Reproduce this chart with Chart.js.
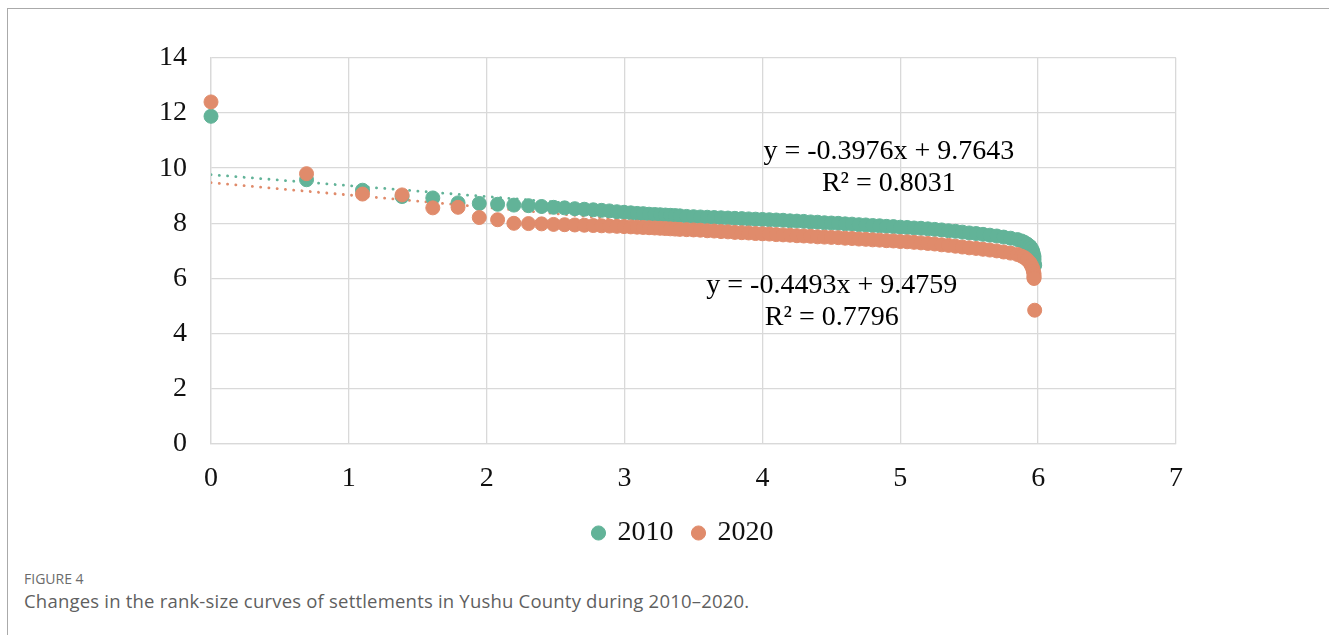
<!DOCTYPE html>
<html>
<head>
<meta charset="utf-8">
<script src="https://cdn.jsdelivr.net/npm/chart.js@4.4.1/dist/chart.umd.min.js"></script>
<style>
  html, body { margin: 0; padding: 0; background: #fff; }
  body { width: 1329px; height: 635px; position: relative; overflow: hidden; }
  .frame { position: absolute; left: 7px; top: 8px; width: 1330px; height: 640px;
           border-top: 1px solid #aaaaaa; border-left: 1px solid #aaaaaa; }
  .chart-box { position: absolute; left: 10px; top: 17px; width: 1300px; height: 550px; }
  .fig-label { position: absolute; left: 24px; top: 569px; font: 14px "Open Sans", sans-serif; color: #6b6b6b; }
  .fig-caption { position: absolute; left: 24px; top: 588px; font: 18.5px "Open Sans", sans-serif;
                 letter-spacing: 0.2px; color: #5f5f5f; }
</style>
</head>
<body>
<div class="frame"></div>
<div class="chart-box"><canvas id="rankChart"></canvas></div>
<div class="fig-label">FIGURE 4</div>
<div class="fig-caption">Changes in the rank-size curves of settlements in Yushu County during 2010–2020.</div>

<script>
// ln(rank) of settlements
const lnRank = [
    0, 0.693, 1.099, 1.386, 1.609, 1.792, 1.946, 2.079, 2.197, 2.303,
    2.398, 2.485, 2.565, 2.639, 2.708, 2.773, 2.833, 2.890, 2.944, 2.996,
    3.045, 3.091, 3.135, 3.178, 3.219, 3.258, 3.296, 3.332, 3.367, 3.401,
    3.45, 3.50, 3.55, 3.60, 3.65, 3.70, 3.75, 3.80, 3.85, 3.90,
    3.95, 4.00, 4.05, 4.10, 4.15, 4.20, 4.25, 4.30, 4.35, 4.40,
    4.45, 4.50, 4.55, 4.60, 4.65, 4.70, 4.75, 4.80, 4.85, 4.90,
    4.95, 5.00, 5.05, 5.10, 5.15, 5.20, 5.25, 5.30, 5.35, 5.40,
    5.45, 5.50, 5.55, 5.60, 5.65, 5.70, 5.75, 5.80, 5.85,
    5.88, 5.90, 5.92, 5.94, 5.95, 5.96, 5.965, 5.97, 5.97, 5.97, 5.97, 5.975
];

// ln(size) 2010
const size2010 = [
    11.88, 9.58, 9.20, 8.97, 8.92, 8.74, 8.72, 8.69, 8.66, 8.64,
    8.61, 8.58, 8.56, 8.53, 8.51, 8.49, 8.47, 8.45, 8.42, 8.40,
    8.38, 8.36, 8.35, 8.33, 8.32, 8.31, 8.30, 8.29, 8.28, 8.27,
    8.25, 8.24, 8.23, 8.22, 8.21, 8.20, 8.19, 8.18, 8.17, 8.16,
    8.15, 8.14, 8.13, 8.12, 8.11, 8.09, 8.08, 8.07, 8.05, 8.04,
    8.02, 8.01, 8.00, 7.98, 7.97, 7.95, 7.94, 7.92, 7.91, 7.89,
    7.88, 7.86, 7.85, 7.83, 7.82, 7.80, 7.78, 7.76, 7.73, 7.71,
    7.68, 7.65, 7.63, 7.60, 7.57, 7.54, 7.50, 7.46, 7.41,
    7.36, 7.31, 7.25, 7.17, 7.10, 7.00, 6.90, 6.80, 6.70, 6.60, 6.52, 6.48
];

// ln(size) 2020
const size2020 = [
    12.40, 9.80, 9.06, 9.03, 8.56, 8.58, 8.21, 8.13, 8.00, 7.99,
    7.98, 7.96, 7.95, 7.94, 7.93, 7.92, 7.91, 7.90, 7.89, 7.88,
    7.87, 7.86, 7.85, 7.84, 7.83, 7.82, 7.81, 7.80, 7.79, 7.78,
    7.77, 7.76, 7.75, 7.73, 7.72, 7.70, 7.69, 7.67, 7.66, 7.65,
    7.63, 7.62, 7.61, 7.59, 7.58, 7.57, 7.55, 7.54, 7.53, 7.51,
    7.50, 7.49, 7.48, 7.46, 7.45, 7.43, 7.42, 7.40, 7.39, 7.37,
    7.36, 7.34, 7.33, 7.31, 7.29, 7.27, 7.25, 7.22, 7.20, 7.17,
    7.14, 7.11, 7.09, 7.06, 7.03, 7.00, 6.96, 6.92, 6.87,
    6.81, 6.76, 6.68, 6.57, 6.48, 6.37, 6.27, 6.18, 6.10, 6.04, 6.00, 4.85
];

// linear trendlines (end points)
const trendX = [0, 5.975];
const trend2010 = [9.7643, 7.3886];
const trend2020 = [9.4759, 6.7914];

const eq2010 = ['y = -0.3976x + 9.7643', 'R\u00B2 = 0.8031'];
const eq2020 = ['y = -0.4493x + 9.4759', 'R\u00B2 = 0.7796'];

const GREEN = '#62b398';
const ORANGE = '#e08b6b';
const SERIF = '"Liberation Serif", "Times New Roman", serif';

function toPoints(xs, ys) {
    return xs.map((x, i) => ({ x: x, y: ys[i] }));
}

// Draw the trendline equations as text anchored in data space
const equationLabels = {
    id: 'equationLabels',
    afterDatasetsDraw(chart) {
        const { ctx, scales } = chart;
        ctx.save();
        ctx.font = '28px ' + SERIF;
        ctx.fillStyle = '#000';
        ctx.textAlign = 'center';
        ctx.textBaseline = 'alphabetic';
        const put = (lines, x, ys) => {
            lines.forEach((t, i) => {
                ctx.fillText(t, scales.x.getPixelForValue(x), scales.y.getPixelForValue(ys[i]));
            });
        };
        put(eq2010, 4.917, [10.33, 9.18]);
        put(eq2020, 4.503, [5.49, 4.33]);
        ctx.restore();
    }
};

const ctx = document.getElementById('rankChart').getContext('2d');
const rankChart = new Chart(ctx, {
    type: 'scatter',
    data: {
        datasets: [
            {
                label: '2010',
                data: toPoints(lnRank, size2010),
                backgroundColor: GREEN,
                borderColor: GREEN,
                borderWidth: 1,
                pointRadius: 7,
                clip: false,
                order: 1
            },
            {
                label: '2020',
                data: toPoints(lnRank, size2020),
                backgroundColor: ORANGE,
                borderColor: ORANGE,
                borderWidth: 1,
                pointRadius: 7,
                clip: false,
                order: 0
            },
            {
                label: 'Linear (2010)',
                data: toPoints(trendX, trend2010),
                showLine: true,
                borderColor: GREEN,
                borderWidth: 2.8,
                borderDash: [0.1, 8.2],
                borderCapStyle: 'round',
                pointRadius: 0,
                order: 2
            },
            {
                label: 'Linear (2020)',
                data: toPoints(trendX, trend2020),
                showLine: true,
                borderColor: ORANGE,
                borderWidth: 2.8,
                borderDash: [0.1, 8.2],
                borderCapStyle: 'round',
                pointRadius: 0,
                order: 2
            }
        ]
    },
    options: {
        responsive: true,
        maintainAspectRatio: false,
        animation: false,
        devicePixelRatio: 1,
        layout: {
            padding: { left: 141, right: 94, top: 31, bottom: 10 }
        },
        scales: {
            x: {
                type: 'linear',
                min: 0,
                max: 7,
                afterFit: (scale) => { scale.height = 55; },
                ticks: { stepSize: 1, padding: 18, color: '#111', font: { family: SERIF, size: 28 } },
                grid: { color: '#d9d9d9', lineWidth: 1.3, drawTicks: false },
                border: { color: '#d9d9d9', width: 1.3 }
            },
            y: {
                min: 0,
                max: 14,
                afterFit: (scale) => { scale.width = 60; },
                ticks: { stepSize: 2, padding: 24, color: '#111', font: { family: SERIF, size: 28 } },
                grid: { color: '#d9d9d9', lineWidth: 1.3, drawTicks: false },
                border: { color: '#d9d9d9', width: 1.3 }
            },
            // empty spacer on the right so the legend stays centred like the original
            yRight: {
                position: 'right',
                afterFit: (scale) => { scale.width = 40; },
                ticks: { display: false },
                grid: { display: false },
                border: { display: false }
            }
        },
        plugins: {
            legend: {
                position: 'bottom',
                labels: {
                    usePointStyle: true,
                    pointStyle: 'circle',
                    boxWidth: 10,
                    boxHeight: 10,
                    padding: 20,
                    color: '#111',
                    font: { family: SERIF, size: 28 },
                    filter: (item) => item.datasetIndex < 2,
                    sort: (a, b) => a.datasetIndex - b.datasetIndex
                }
            },
            tooltip: { enabled: false }
        }
    },
    plugins: [equationLabels]
});
</script>
</body>
</html>
